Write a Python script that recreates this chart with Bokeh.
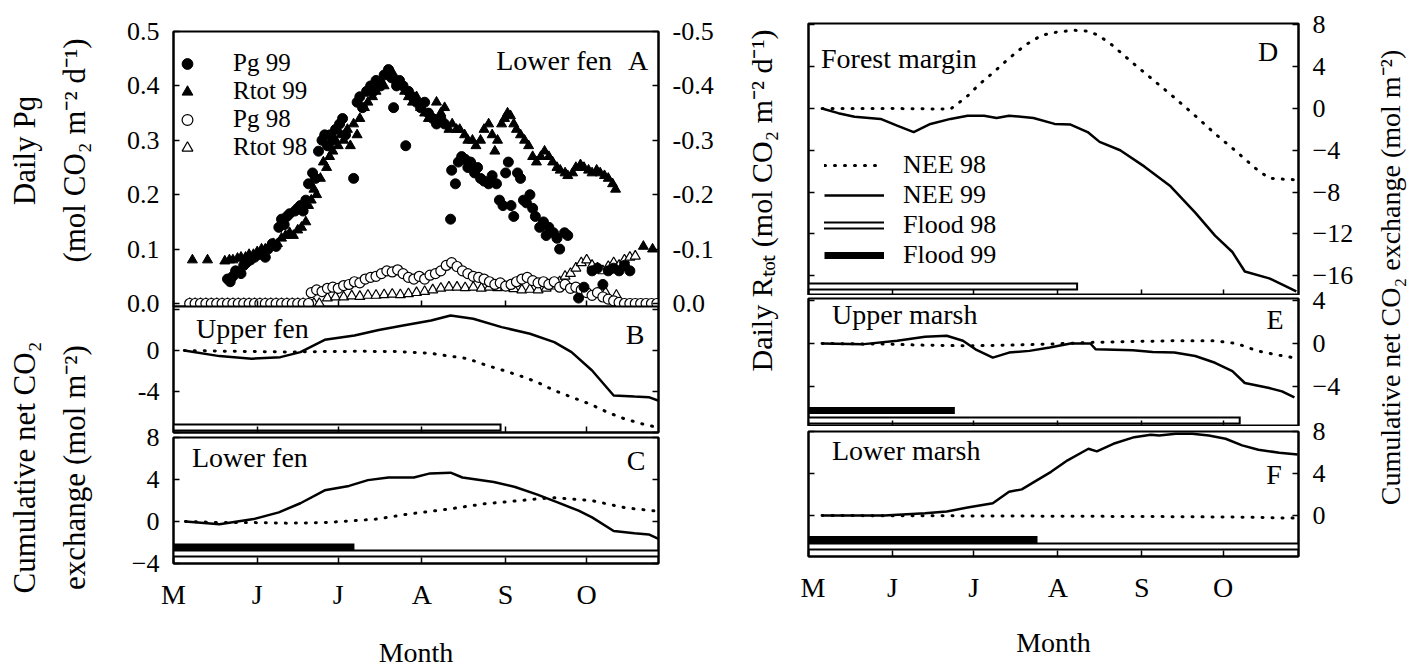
import math
from bokeh.plotting import figure
from bokeh.models import (Range1d, LinearAxis, FixedTicker, Legend, LegendItem, NumeralTickFormatter)
from bokeh.layouts import row, column
from bokeh.embed import file_html
from bokeh.resources import INLINE

FONT = "Liberation Serif"

# ---------------- data ----------------
month_ticks = [121, 152, 182, 213, 244, 274]
month_labels = ["M", "J", "J", "A", "S", "O"]

pg99_day = [141, 142, 143, 144, 146, 147, 148, 149.5, 151, 152.5, 154, 155, 156, 157.6, 159, 160, 161, 162, 163, 164,
            166, 167, 168, 169, 170, 171, 172.5, 173.6, 174.7, 176, 177, 178, 179, 180, 181, 182.5, 183.6, 184.7, 187.7,
            189, 190, 191, 192.5, 194, 195, 196, 197.7, 199, 200.6, 201.7, 202.5, 203.6, 204.7, 206, 207, 208, 209.5,
            211, 212.5, 214, 215.4, 217, 218.4, 220, 221.4, 223.6, 224, 225.4, 226.5, 227.7, 229, 230, 231, 232.5,
            233.6, 234.7, 236, 237.7, 239, 240.6, 241.7, 243, 244, 245, 246, 247, 248.4, 249.5, 250.6, 251.7, 253, 254,
            255, 256.6, 258, 259, 260, 261.7, 263, 264, 265.8, 267, 271, 273, 276, 278, 280, 282, 284, 286, 288, 290]
pg99_val = [0.045, 0.040, 0.050, 0.060, 0.055, 0.070, 0.075, 0.080, 0.085, 0.090, 0.095, 0.085, 0.100, 0.110, 0.105,
            0.140, 0.155, 0.145, 0.160, 0.165, 0.170, 0.175, 0.180, 0.170, 0.190, 0.220, 0.240, 0.230, 0.280, 0.300,
            0.310, 0.290, 0.310, 0.300, 0.320, 0.330, 0.340, 0.310, 0.230, 0.370, 0.380, 0.360, 0.390, 0.400, 0.390,
            0.410, 0.400, 0.420, 0.430, 0.415, 0.360, 0.400, 0.410, 0.400, 0.290, 0.390, 0.380, 0.370, 0.360, 0.370,
            0.350, 0.340, 0.330, 0.340, 0.330, 0.155, 0.245, 0.220, 0.260, 0.270, 0.265, 0.250, 0.260, 0.240, 0.250,
            0.230, 0.225, 0.220, 0.235, 0.220, 0.190, 0.180, 0.240, 0.260, 0.180, 0.160, 0.240, 0.230, 0.190, 0.185,
            0.200, 0.175, 0.160, 0.140, 0.150, 0.125, 0.140, 0.130, 0.120, 0.100, 0.130, 0.125, 0.010, 0.030, 0.060,
            0.065, 0.035, 0.060, 0.065, 0.060, 0.070, 0.060]

rtot99_day = [128, 133.6, 140, 141.7, 143, 144.7, 146, 147.7, 149, 150.6, 152, 153.6, 155, 156.5, 158, 159.5, 161, 162.5,
              164, 165.4, 167, 168.4, 170, 171, 172, 173, 174, 175.4, 176.5, 177.7, 178.8, 180, 181, 182, 183, 184,
              185.4, 186.5, 187.7, 189, 190, 191.7, 193, 194.7, 196, 197.7, 199, 200.6, 202, 203.6, 205, 206.6, 208,
              209.5, 211, 212.5, 214, 215.4, 217, 218.4, 220, 221.4, 223, 224.2, 225.8, 227, 228.8, 230, 231.7, 233,
              234.7, 236, 237.7, 239, 240, 241, 242.5, 243.6, 244.7, 245.8, 247, 248, 249.5, 251, 252.5, 254, 255.4,
              257, 258.4, 260, 261.4, 263, 264.2, 266, 267, 268.8, 270, 271.7, 273, 274.7, 276, 277.7, 279, 280.6, 282,
              283.6, 284.7, 295, 298.4]
rtot99_val = [-0.080, -0.080, -0.078, -0.080, -0.080, -0.083, -0.085, -0.085, -0.090, -0.090, -0.095, -0.100, -0.100,
              -0.105, -0.110, -0.110, -0.120, -0.125, -0.130, -0.125, -0.135, -0.140, -0.150, -0.180, -0.190, -0.210,
              -0.200, -0.230, -0.260, -0.250, -0.270, -0.280, -0.300, -0.290, -0.310, -0.300, -0.320, -0.290, -0.330,
              -0.310, -0.340, -0.360, -0.370, -0.380, -0.390, -0.410, -0.400, -0.420, -0.425, -0.410, -0.400, -0.390,
              -0.380, -0.370, -0.380, -0.360, -0.350, -0.340, -0.340, -0.370, -0.350, -0.360, -0.320, -0.330, -0.320,
              -0.320, -0.310, -0.300, -0.300, -0.290, -0.300, -0.320, -0.330, -0.310, -0.280, -0.300, -0.330, -0.340,
              -0.350, -0.345, -0.330, -0.320, -0.310, -0.300, -0.290, -0.270, -0.260, -0.270, -0.280, -0.270, -0.260,
              -0.250, -0.245, -0.240, -0.235, -0.240, -0.250, -0.255, -0.250, -0.245, -0.240, -0.245, -0.240, -0.235,
              -0.230, -0.220, -0.210, -0.105, -0.100]

pg98_day = [127, 129, 131, 133, 135, 137, 139, 141, 143, 145, 147, 149, 151, 153, 155, 157, 159, 161, 163, 165, 167, 169,
            171, 172, 174, 176, 178, 180, 182, 184, 186, 188, 190, 192, 194, 196, 198, 200, 202, 204, 206, 208, 210, 212,
            214, 216, 218, 220, 222, 224, 226, 228, 230, 232, 234, 236, 238, 240, 242, 244, 246, 248, 250, 252, 254, 256,
            258, 260, 262, 264, 266, 268, 270, 272, 274, 276, 278, 280, 282, 284, 286, 288, 290, 292, 294, 296, 298, 300]
pg98_val = [0.0, 0.0, 0.0, 0.0, 0.0, 0.0, 0.0, 0.0, 0.0, 0.0, 0.0, 0.0, 0.0, 0.0, 0.0, 0.0, 0.0, 0.0, 0.0, 0.0, 0.0, 0.0,
            0.0, 0.020, 0.025, 0.022, 0.028, 0.030, 0.028, 0.033, 0.035, 0.040, 0.038, 0.045, 0.048, 0.050, 0.055, 0.060,
            0.058, 0.062, 0.055, 0.048, 0.045, 0.050, 0.045, 0.052, 0.055, 0.060, 0.070, 0.075, 0.068, 0.060, 0.055,
            0.050, 0.048, 0.045, 0.040, 0.035, 0.038, 0.032, 0.035, 0.040, 0.045, 0.048, 0.042, 0.038, 0.040, 0.035,
            0.040, 0.030, 0.035, 0.028, 0.030, 0.025, 0.020, 0.015, 0.020, 0.012, 0.008, 0.005, 0.002, 0.0, 0.0, 0.0,
            0.0, 0.0, 0.0, 0.0]

rtot98_day = [127, 129, 131, 133, 135, 137, 139, 141, 143, 145, 147, 149, 151, 153, 155, 157, 159, 161, 163, 165, 167,
              169, 171, 173, 175, 178, 181, 184, 187, 190, 193, 196, 199, 202, 205, 208, 211, 214, 217, 220, 223, 226,
              229, 232, 235, 238, 241, 244, 247, 250, 253, 256, 259, 262, 264, 266, 268, 270, 272, 274, 276, 278, 280,
              281, 282, 284, 285, 286, 288, 290, 292]
rtot98_val = [0.0, 0.0, 0.0, 0.0, 0.0, 0.0, 0.0, 0.0, 0.0, 0.0, 0.0, 0.0, 0.0, 0.0, 0.0, 0.0, 0.0, 0.0, 0.0, 0.0, 0.0,
              0.0, 0.0, 0.0, 0.0, -0.010, -0.012, -0.012, -0.014, -0.013, -0.015, -0.015, -0.016, -0.017, -0.016,
              -0.018, -0.020, -0.022, -0.025, -0.028, -0.030, -0.030, -0.029, -0.030, -0.028, -0.030, -0.029, -0.030,
              -0.027, -0.025, -0.026, -0.025, -0.028, -0.032, -0.040, -0.050, -0.055, -0.065, -0.075, -0.080, -0.070,
              -0.065, -0.060, -0.020, -0.068, -0.075, -0.015, -0.070, -0.080, -0.085, -0.087]

# Panel B (Upper fen)
nee99_B_day = [125, 138, 150, 160.6, 168, 177, 188, 197, 206, 216.4, 223.6, 232, 242.5, 253, 262, 268.4, 276, 284, 291.7, 297, 301]
nee99_B = [0.0, -0.55, -0.8, -0.65, -0.16, 1.04, 1.46, 2.0, 2.44, 2.93, 3.41, 3.09, 2.28, 1.63, 0.81, -0.16, -1.95, -4.39, -4.49, -4.55, -4.94]
nee98_B_day = [125, 138, 150, 164, 177, 190, 203, 216, 222, 230, 237, 242.5, 249, 255.7, 262, 268.4, 275, 281.5, 288, 294.5, 299.7]
nee98_B = [0.0, -0.06, -0.1, -0.15, -0.1, -0.08, -0.1, -0.26, -0.5, -0.8, -1.46, -1.89, -2.44, -3.09, -3.9, -4.55, -5.2, -6.0, -6.67, -7.15, -7.48]

# Panel C (Lower fen)
nee99_C_day = [125.4, 138, 150.7, 160, 168, 177, 186, 193, 200.6, 210, 216, 223.6, 228, 239.6, 247.5, 255.5, 263, 271, 276, 284, 291.7, 297, 301]
nee99_C = [0.0, -0.26, 0.23, 0.87, 1.74, 2.97, 3.39, 3.94, 4.19, 4.19, 4.58, 4.65, 4.19, 3.77, 3.29, 2.58, 1.84, 1.03, 0.39, -0.9, -1.13, -1.23, -1.71]
nee98_C_day = [125.4, 138, 150, 164, 177, 187, 196, 208, 223, 236, 249.6, 256, 262, 275.6, 288.7, 301]
nee98_C = [0.0, -0.1, -0.1, -0.16, -0.1, 0.06, 0.23, 0.71, 1.19, 1.68, 2.0, 2.16, 2.26, 2.0, 1.29, 0.97]

# Panel D (Forest margin)
nee98_D_day = [126, 149, 173.4, 176.6, 179.7, 184, 189, 195, 201, 207, 213, 219, 224, 228, 233, 240.7, 248, 256, 263.7, 271, 279, 286.6, 291, 295.7, 300.3]
nee98_D = [0.0, 0.0, -0.06, 0.57, 1.2, 2.3, 3.4, 4.8, 6.07, 7.0, 7.33, 7.48, 7.4, 7.0, 6.07, 4.34, 2.77, 1.04, -0.7, -2.42, -4.15, -5.88, -6.67, -6.76, -6.82]
nee99_D_day = [126, 132, 138, 147.6, 153.7, 159.8, 166, 173.4, 179.7, 185.8, 190.4, 195, 204, 211.8, 217.7, 224, 228.4, 236, 245, 254.6, 263.7, 271, 277.4, 282, 291, 301]
nee99_D = [0.0, -0.45, -0.79, -1.0, -1.64, -2.26, -1.48, -1.0, -0.69, -0.69, -0.91, -0.69, -0.91, -1.48, -1.54, -2.26, -3.2, -4.0, -5.57, -7.45, -9.97, -12.17, -13.74, -15.6, -16.26, -17.5]

# Panel E (Upper marsh)
nee99_E_day = [126, 141.5, 153.7, 164, 172, 178, 182.6, 189, 195, 202.5, 210, 217.7, 225, 227, 240.7, 248, 256, 263.7, 271, 277.4, 282, 291, 295.7, 300.3]
nee99_E = [0.0, -0.06, 0.25, 0.63, 0.72, 0.25, -0.54, -1.32, -0.85, -0.69, -0.38, 0.0, 0.0, -0.54, -0.63, -0.79, -0.85, -1.17, -1.8, -2.58, -3.69, -4.16, -4.47, -5.04]
nee98_E_day = [126, 149, 164, 179.7, 195, 210, 225, 240.7, 256, 271, 279, 286.6, 294, 300]
nee98_E = [0.0, -0.06, -0.16, -0.22, -0.16, -0.06, 0.1, 0.19, 0.25, 0.25, 0.0, -0.69, -1.07, -1.32]

# Panel F (Lower marsh)
nee99_F_day = [126, 149, 164, 172, 179.7, 189, 195, 199.7, 204.3, 210.5, 216.6, 224.3, 227.4, 233.5, 241.2, 247.3, 250.4, 256.5, 262.6, 268.7, 274.9, 281, 287, 294.7, 301.5]
nee99_F = [0.0, 0.0, 0.22, 0.38, 0.76, 1.17, 2.27, 2.49, 3.21, 4.16, 5.26, 6.36, 6.11, 6.83, 7.46, 7.69, 7.62, 7.78, 7.78, 7.62, 7.31, 6.68, 6.27, 5.98, 5.8]
nee98_F_day = [126, 160, 200, 250, 280, 301]
nee98_F = [0.0, -0.02, -0.05, -0.1, -0.15, -0.25]

# Flood periods (day of year)
flood98_panel = ["B", "C", "D", "E", "F"]
flood98_start = [121, 121, 121, 121, 121]
flood98_end = [241, 301, 219, 279, 301]
flood99_panel = ["C", "E", "F"]
flood99_start = [121, 121, 121]
flood99_end = [188, 175, 205.5]

# ---------------- helpers ----------------
TW = {' ': 250, 'A': 722, 'B': 667, 'C': 667, 'D': 722, 'E': 611, 'F': 556, 'L': 611, 'U': 722,
      'a': 444, 'e': 444, 'f': 333, 'g': 500, 'h': 500, 'i': 278, 'm': 778, 'n': 500, 'o': 500, 'p': 500,
      'r': 333, 's': 389, 't': 278, 'w': 722}


def tw(s, size):
    return sum(TW.get(ch, 500) for ch in s) / 1000.0 * size


def style_axis(ax, show_labels, ticks, fmt=None, overrides=None):
    ax.ticker = FixedTicker(ticks=ticks, minor_ticks=[])
    ax.major_tick_in = 6
    ax.major_tick_out = 0
    ax.minor_tick_in = 0
    ax.minor_tick_out = 0
    ax.axis_line_color = "black"
    ax.axis_line_width = 2
    ax.major_tick_line_width = 1.5
    ax.major_tick_line_color = "black"
    ax.major_label_text_font = FONT
    ax.major_label_text_color = "black"
    if fmt is not None:
        ax.formatter = fmt
    if show_labels:
        ax.major_label_text_font_size = "26px"
        ax.major_label_standoff = 14
        if overrides:
            ax.major_label_overrides = overrides
    else:
        ax.major_label_text_font_size = "0px"
        ax.major_label_standoff = 0
        ax.major_label_overrides = {t: "" for t in ticks}


def panel(fw, fh, xr, yr, bl, br, bt, bb, overlap=0):
    p = figure(frame_width=fw, frame_height=fh, x_range=Range1d(*xr), y_range=Range1d(*yr),
               output_backend="svg", toolbar_location=None,
               min_border_left=bl, min_border_right=br, min_border_top=bt, min_border_bottom=bb,
               x_axis_location=None, y_axis_location=None)
    p.grid.visible = False
    p.outline_line_color = "black"
    p.outline_line_width = 2
    p.background_fill_color = "white"
    p.border_fill_alpha = 0
    if overlap:
        p.margin = (-overlap, 0, 0, 0)
    return p


def add_x(p, show, month_title=None, title_standoff=20):
    ax = LinearAxis()
    style_axis(ax, show, month_ticks, overrides={t: l for t, l in zip(month_ticks, month_labels)} if show else None)
    if show:
        ax.major_label_text_font_size = "28px"
        ax.major_label_standoff = 15
    if month_title:
        ax.axis_label = month_title
        ax.axis_label_text_font = FONT
        ax.axis_label_text_font_size = "28px"
        ax.axis_label_text_font_style = "normal"
        ax.axis_label_text_color = "black"
        ax.axis_label_standoff = title_standoff
    p.add_layout(ax, "below")


def add_y(p, side, show, ticks, range_name="default", fmt=None, overrides=None):
    ax = LinearAxis(y_range_name=range_name)
    style_axis(ax, show, ticks, fmt=fmt, overrides=overrides)
    p.add_layout(ax, side)


def txt(p, x, y, s, align="left", size=28):
    """Panel caption, drawn as a glyph-less legend entry (x, y in frame pixels, y = text middle)."""
    r = p.line([float("nan")], [float("nan")], line_alpha=0)
    w = tw(s, size)
    left = x - w if align == "right" else (x - w / 2.0 if align == "center" else x)
    h = 30
    leg = Legend(items=[LegendItem(label=s, renderers=[r])], location=(left, y - h / 2.0),
                 orientation="vertical", padding=0, margin=0, spacing=0,
                 glyph_width=0, glyph_height=h, label_height=h, label_standoff=0,
                 label_text_font=FONT, label_text_font_size="%dpx" % size, label_text_color="black",
                 border_line_alpha=0, background_fill_alpha=0)
    p.add_layout(leg)


def level(yr, fh, px_from_bottom):
    return yr[0] + (yr[1] - yr[0]) * px_from_bottom / fh


def nee_lines(p, d98, v98, d99, v99):
    r98 = p.line(d98, v98, line_color="black", line_width=3, line_dash="1 9", line_cap="round")
    r99 = p.line(d99, v99, line_color="black", line_width=2.5)
    return r98, r99


def flood98_bar(p, panel_name, yr, fh, px):
    i = flood98_panel.index(panel_name)
    y = level(yr, fh, px)
    xs = [flood98_start[i], flood98_end[i]]
    a = p.line(xs, [y, y], line_color="black", line_width=8, line_cap="square")
    b = p.line(xs, [y, y], line_color="white", line_width=4, line_cap="square")
    return [a, b]


def flood99_bar(p, panel_name, yr, fh, px):
    i = flood99_panel.index(panel_name)
    y = level(yr, fh, px)
    return p.line([flood99_start[i], flood99_end[i]], [y, y], line_color="black", line_width=7)


def make_legend(items, loc, gw, gh, standoff, fsize):
    return Legend(items=items, location=loc, orientation="vertical", padding=0, margin=0, spacing=0,
                  glyph_width=gw, glyph_height=gh, label_height=gh, label_standoff=standoff,
                  label_text_font=FONT, label_text_font_size=fsize, label_text_color="black",
                  border_line_alpha=0, background_fill_alpha=0)


def title_fig(total_w, top, frame_h, bottom, labels):
    """A strip that only carries rotated axis titles (outer title last)."""
    p = figure(frame_width=1, frame_height=frame_h, x_range=Range1d(0, 1), y_range=Range1d(0, 1),
               output_backend="svg", toolbar_location=None,
               min_border_left=total_w - 1, min_border_right=0, min_border_top=top, min_border_bottom=bottom,
               x_axis_location=None, y_axis_location=None)
    p.grid.visible = False
    p.outline_line_color = None
    p.background_fill_alpha = 0
    p.border_fill_alpha = 0
    for text, size, standoff in labels:
        ax = LinearAxis(ticker=FixedTicker(ticks=[]))
        ax.axis_line_color = None
        ax.major_tick_line_color = None
        ax.minor_tick_line_color = None
        ax.major_label_text_font_size = "0px"
        ax.major_label_standoff = 0
        ax.major_tick_out = 0
        ax.major_tick_in = 0
        ax.axis_label = text
        ax.axis_label_text_font = FONT
        ax.axis_label_text_font_size = size
        ax.axis_label_text_font_style = "normal"
        ax.axis_label_text_color = "black"
        ax.axis_label_standoff = standoff
        p.add_layout(ax, "left")
    return p


XL = (121, 300.6)
XR = (121, 301.8)
LW, LBL, LBR = 485, 75, 77
RW, RBL, RBR = 490, 8, 57
OV = 12
OVC = 18

# ---------------- Panel A ----------------
yA = (-0.0055, 0.5)
pA = panel(LW, 275, XL, yA, LBL, LBR, 31, OV)
pA.extra_y_ranges = {"r": Range1d(0.0055, -0.5)}
add_x(pA, False)
add_y(pA, "left", True, [0.0, 0.1, 0.2, 0.3, 0.4, 0.5], fmt=NumeralTickFormatter(format="0.0"))
add_y(pA, "right", True, [0.0, -0.1, -0.2, -0.3, -0.4, -0.5], range_name="r", fmt=NumeralTickFormatter(format="0.0"))
rR98 = pA.scatter(rtot98_day, rtot98_val, y_range_name="r", marker="triangle", size=10, fill_color="white",
                  line_color="black", line_width=1.2)
rP98 = pA.scatter(pg98_day, pg98_val, marker="circle", size=10, fill_color="white", line_color="black", line_width=1.2)
rR99 = pA.scatter(rtot99_day, rtot99_val, y_range_name="r", marker="triangle", size=10, fill_color="black",
                  line_color="black")
rP99 = pA.scatter(pg99_day, pg99_val, marker="circle", size=10, fill_color="black", line_color="black")
legA = make_legend([LegendItem(label="Pg 99", renderers=[rP99]), LegendItem(label="Rtot 99", renderers=[rR99]),
                    LegendItem(label="Pg 98", renderers=[rP98]), LegendItem(label="Rtot 98", renderers=[rR98])],
                   (0, 145), 28, 27, 32, "25px")
pA.add_layout(legA)
txt(pA, 439, 244, "Lower fen", align="right")
txt(pA, 465, 244, "A", align="center")

# ---------------- Panel B ----------------
yB = (-8.0, 4.29)
pB = panel(LW, 126, XL, yB, LBL, LBR, 0, 5, overlap=OV)
add_x(pB, False)
add_y(pB, "left", True, [-8, -4, 0, 4], overrides={-8: "", -4: "-4", 0: "0", 4: ""})
add_y(pB, "right", False, [-8, -4, 0, 4])
flood98_bar(pB, "B", yB, 126, 5)
nee_lines(pB, nee98_B_day, nee98_B, nee99_B_day, nee99_B)
txt(pB, 23, 102, "Upper fen")
txt(pB, 462, 96, "B", align="center")

# ---------------- Panel C ----------------
yC = (-4.0, 8.0)
pC = panel(LW, 126, XL, yC, LBL, LBR, OVC, 102, overlap=OVC)
add_x(pC, True, "Month", 24)
add_y(pC, "left", True, [-4, 0, 4, 8])
add_y(pC, "right", False, [-4, 0, 4, 8])
flood98_bar(pC, "C", yC, 126, 10)
flood99_bar(pC, "C", yC, 126, 16.5)
nee_lines(pC, nee98_C_day, nee98_C, nee99_C_day, nee99_C)
txt(pC, 19, 104, "Lower fen")
txt(pC, 463, 101, "C", align="center")

# ---------------- Panel D ----------------
yD = (-17.9, 8.13)
pD = panel(RW, 272, XR, yD, RBL, RBR, 23, 0)
add_x(pD, False)
add_y(pD, "left", False, [-16, -12, -8, -4, 0, 4, 8])
add_y(pD, "right", True, [-16, -12, -8, -4, 0, 4, 8])
fD = flood98_bar(pD, "D", yD, 272, 9)
d98, d99 = nee_lines(pD, nee98_D_day, nee98_D, nee99_D_day, nee99_D)
dummy99 = pD.line([float("nan")], [float("nan")], line_color="black", line_width=7)
legD = make_legend([LegendItem(label="NEE 98", renderers=[d98]), LegendItem(label="NEE 99", renderers=[d99]),
                    LegendItem(label="Flood 98", renderers=fD), LegendItem(label="Flood 99", renderers=[dummy99])],
                   (16, 25), 60, 30, 19, "26px")
pD.add_layout(legD)
txt(pD, 13, 235, "Forest margin")
txt(pD, 460, 242, "D", align="center")

# ---------------- Panel E ----------------
yE = (-7.75, 4.2)
pE = panel(RW, 128, XR, yE, RBL, RBR, 3 + OV, 0, overlap=OV)
add_x(pE, False)
add_y(pE, "left", False, [-4, 0, 4])
add_y(pE, "right", True, [-4, 0, 4])
flood98_bar(pE, "E", yE, 128, 6)
flood99_bar(pE, "E", yE, 128, 16)
nee_lines(pE, nee98_E_day, nee98_E, nee99_E_day, nee99_E)
txt(pE, 24, 110, "Upper marsh")
txt(pE, 467, 105, "E", align="center")

# ---------------- Panel F ----------------
yF = (-3.9, 8.0)
pF = panel(RW, 125, XR, yF, RBL, RBR, 5 + OV, 109, overlap=OV)
add_x(pF, True, "Month", 21)
add_y(pF, "left", False, [-4, 0, 4, 8])
add_y(pF, "right", True, [-4, 0, 4, 8])
flood98_bar(pF, "F", yF, 125, 10)
flood99_bar(pF, "F", yF, 125, 17)
nee_lines(pF, nee98_F_day, nee98_F, nee99_F_day, nee99_F)
txt(pF, 24, 104, "Lower marsh")
txt(pF, 466, 80, "F", align="center")

# ---------------- rotated axis titles ----------------
La = title_fig(98, 20, 260, 26, [("(mol CO\u2082 m\u207b\u00b2 d\u207b\u00b9)", "31px", 6),
                                 ("Daily P\u0261", "31px", 12)])
Lb = title_fig(98, 24, 274, 61, [("exchange (mol m\u207b\u00b2)", "31px", 6),
                                 ("Cumulative net CO\u2082", "31px", 12)])
M = title_fig(65, 30, 320, 315, [("Daily R\u209c\u2092\u209c (mol CO\u2082 m\u207b\u00b2 d\u207b\u00b9)", "30px", 22)])
R = title_fig(54, 40, 474, 151, [("Cumulative net CO\u2082 exchange (mol m\u207b\u00b2)", "28px", 4)])

layout = row(column(La, Lb), column(pA, pB, pC), M, column(pD, pE, pF), R)
open("out.html", "w").write(file_html(layout, INLINE))
